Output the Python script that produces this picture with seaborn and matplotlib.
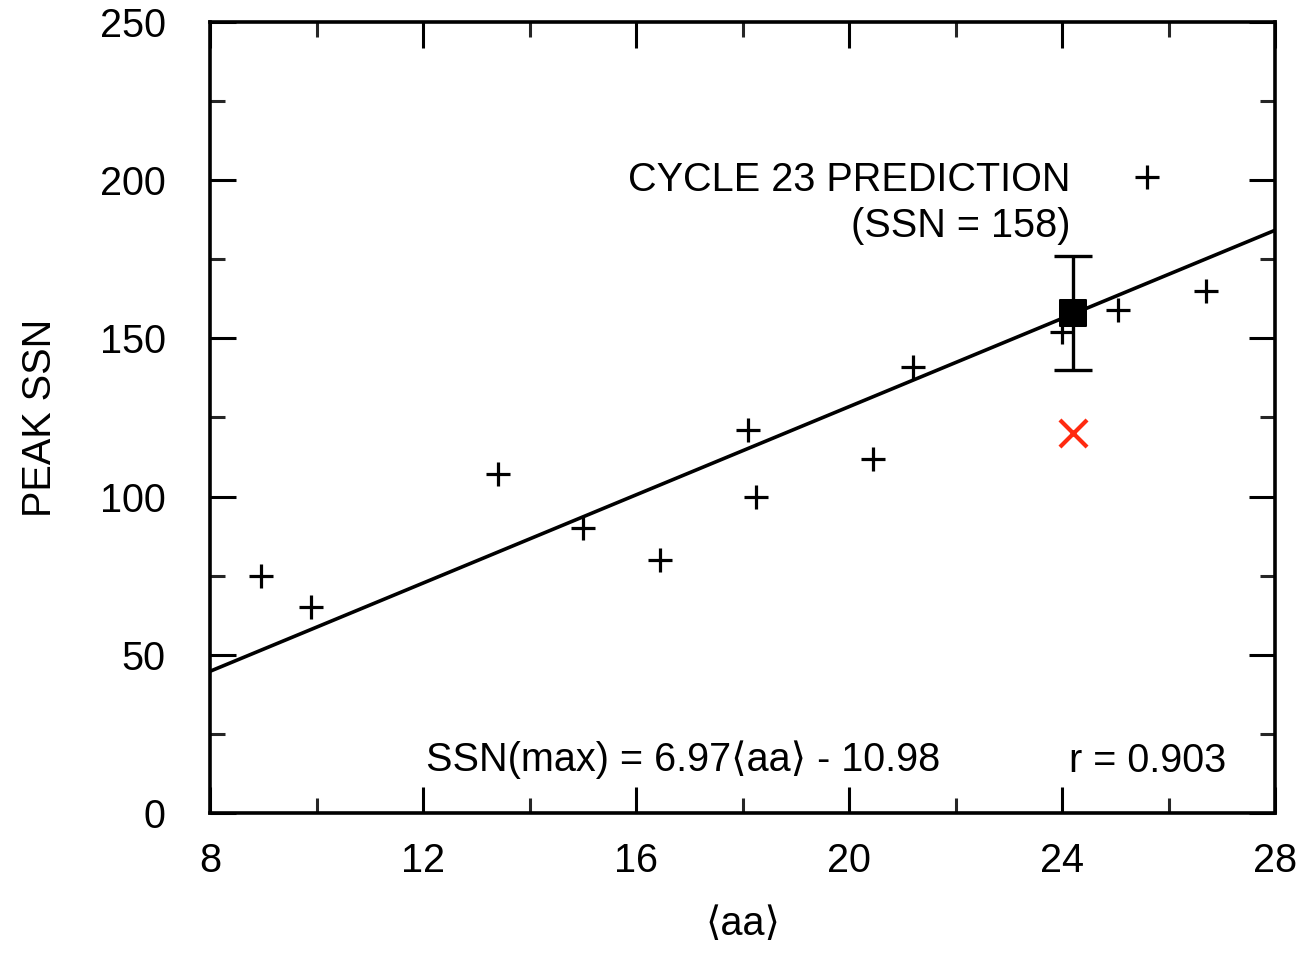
import matplotlib
matplotlib.use("Agg")
import matplotlib.pyplot as plt
import seaborn as sns
import numpy as np
import pandas as pd
from matplotlib.ticker import MultipleLocator

# ---- data ----
aa_values = [8.95, 9.9, 13.4, 15.0, 16.45, 18.1, 18.25, 20.45, 21.2, 24.0, 25.05, 25.6, 26.7]
peak_ssn = [75, 65, 107, 90, 80, 121, 100, 112, 141, 152, 159, 201, 165]

fit_slope = 6.97
fit_intercept = -10.98

pred_aa = [24.2]
pred_ssn = [158]
pred_err_low = [18]
pred_err_high = [18]

actual_aa = [24.2]
actual_ssn = [120]

x_ticks = [8, 12, 16, 20, 24, 28]
y_ticks = [0, 50, 100, 150, 200, 250]

sns.set_theme(style="ticks")
plt.rcParams['font.family'] = ['Liberation Sans', 'DejaVu Sans']
plt.rcParams['text.color'] = 'black'
plt.rcParams['axes.labelcolor'] = 'black'

FS = 28.5

fig = plt.figure(figsize=(13.06, 9.57), dpi=100)
ax = fig.add_axes([0.1608, 0.1505, 0.8155, 0.8265])

df = pd.DataFrame({"aa": aa_values, "ssn": peak_ssn})

# regression line across the axis range
xl = np.array([x_ticks[0], x_ticks[-1]], dtype=float)
line_df = pd.DataFrame({"aa": xl, "ssn": fit_slope * xl + fit_intercept})
sns.lineplot(data=line_df, x="aa", y="ssn", color="black", linewidth=2.6, ax=ax)

sns.scatterplot(data=df, x="aa", y="ssn", marker="+", s=280, color="black",
                linewidth=2.3, ax=ax, zorder=5)

# prediction with error bar
ax.errorbar(pred_aa, pred_ssn, yerr=[pred_err_low, pred_err_high], fmt="none",
            ecolor="black", elinewidth=2.4, capsize=14, capthick=2.4, zorder=4)
sns.scatterplot(x=pred_aa, y=pred_ssn, marker="s", s=330, color="black",
                edgecolor="black", ax=ax, zorder=6)

# actual (red cross)
sns.scatterplot(x=actual_aa, y=actual_ssn, marker="x", s=380, color="#ff2a10",
                linewidth=3.0, ax=ax, zorder=6)

ax.set_xlim(x_ticks[0], x_ticks[-1])
ax.set_ylim(y_ticks[0], y_ticks[-1])
ax.set_xticks(x_ticks)
ax.set_yticks(y_ticks)
ax.xaxis.set_minor_locator(MultipleLocator(2))
ax.yaxis.set_minor_locator(MultipleLocator(25))
ax.tick_params(which="major", direction="in", length=19, width=2.2,
               top=True, right=True, labelsize=FS, colors="black")
ax.tick_params(which="minor", direction="in", length=11, width=2.2,
               top=True, right=True)
ax.tick_params(axis="x", which="major", pad=21)
ax.tick_params(axis="y", which="major", pad=32)
for s in ax.spines.values():
    s.set_linewidth(2.6)
    s.set_color("black")

ax.set_xlabel("\u27e8aa\u27e9", fontsize=FS, labelpad=18)
ax.set_ylabel("PEAK SSN", fontsize=FS, labelpad=29)

ax.text(24.15, 200, "CYCLE 23 PREDICTION", fontsize=FS, ha="right", va="center")
ax.text(24.15, 185.5, "(SSN = 158)", fontsize=FS, ha="right", va="center")
ax.text(12.05, 17, "SSN(max) = 6.97\u27e8aa\u27e9 - 10.98", fontsize=FS, ha="left", va="center")
ax.text(27.08, 16.5, "r = 0.903", fontsize=FS, ha="right", va="center")

fig.savefig("out.png", dpi=100, facecolor="white")
